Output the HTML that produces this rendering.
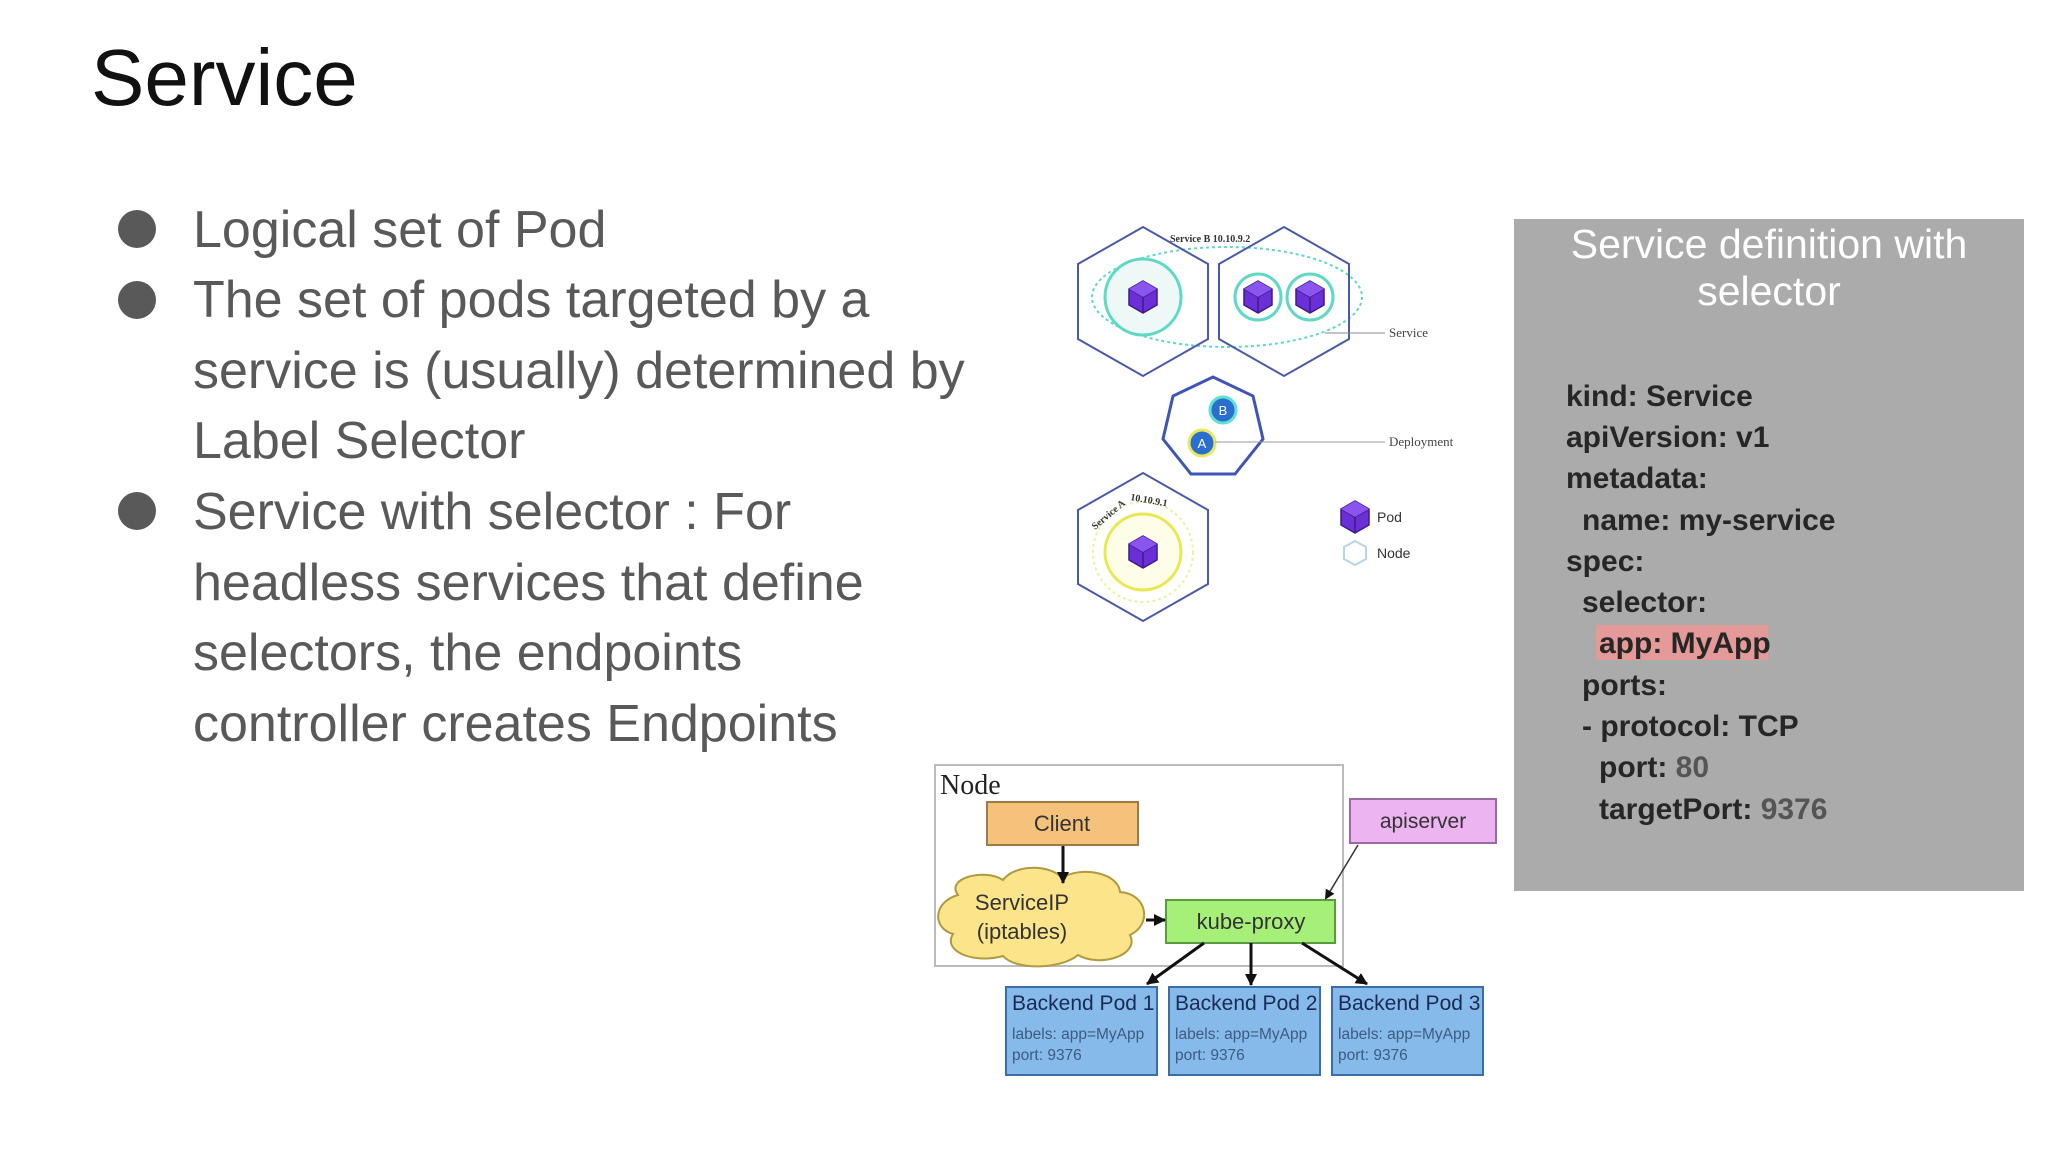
<!DOCTYPE html>
<html><head><meta charset="utf-8"><style>
html,body{margin:0;padding:0;background:#fff;}
svg{display:block;}
</style></head><body>
<svg width="2048" height="1152" viewBox="0 0 2048 1152" xmlns="http://www.w3.org/2000/svg">
<defs>
<g id="cube">
<polygon points="0,-16 14,-8 14,8 0,16 -14,8 -14,-8" fill="#6a2fd6" stroke="#3e1a8a" stroke-width="1.5"/>
<polyline points="-14,-8 0,0 14,-8" fill="none" stroke="#3e1a8a" stroke-width="1.5"/>
<line x1="0" y1="0" x2="0" y2="16" stroke="#3e1a8a" stroke-width="1.5"/>
<polygon points="0,-16 14,-8 0,0 -14,-8" fill="#8a55ee"/>
</g>
<marker id="ah" markerWidth="10" markerHeight="10" refX="8" refY="5" orient="auto" markerUnits="userSpaceOnUse"><path d="M0,0 L10,5 L0,10 z" fill="#111"/></marker>
<marker id="ahs" markerWidth="12" markerHeight="12" refX="11" refY="6" orient="auto" markerUnits="userSpaceOnUse"><path d="M0,0 L12,6 L0,12 z" fill="#111"/></marker>
</defs>

<text x="91" y="105" font-family="Liberation Sans, sans-serif" font-size="80" fill="#111">Service</text>

<g font-family="Liberation Sans, sans-serif" font-size="52" fill="#595959">
<circle cx="137" cy="229" r="19" fill="#595959"/>
<circle cx="137" cy="300" r="19" fill="#595959"/>
<circle cx="137" cy="511" r="19" fill="#595959"/>
<text x="193" y="247">Logical set of Pod</text>
<text x="193" y="317">The set of pods targeted by a</text>
<text x="193" y="388">service is (usually) determined by</text>
<text x="193" y="458">Label Selector</text>
<text x="193" y="529">Service with selector : For</text>
<text x="193" y="600">headless services that define</text>
<text x="193" y="670">selectors, the endpoints</text>
<text x="193" y="741">controller creates Endpoints</text>
</g>

<rect x="1514" y="219" width="510" height="672" fill="#ababab"/>
<g font-family="Liberation Sans, sans-serif" font-size="41" fill="#fff" text-anchor="middle">
<text x="1769" y="258">Service definition with</text>
<text x="1769" y="305">selector</text>
</g>
<rect x="1596" y="625" width="172" height="35" fill="#e59a9a"/>
<g font-family="Liberation Sans, sans-serif" font-size="30" font-weight="bold" fill="#262626">
<text x="1566" y="406">kind: Service</text>
<text x="1566" y="447">apiVersion: v1</text>
<text x="1566" y="488">metadata:</text>
<text x="1582" y="530">name: my-service</text>
<text x="1566" y="571">spec:</text>
<text x="1582" y="612">selector:</text>
<text x="1599" y="653">app: MyApp</text>
<text x="1582" y="695">ports:</text>
<text x="1582" y="736">- protocol: TCP</text>
<text x="1599" y="777">port: <tspan fill="#555">80</tspan></text>
<text x="1599" y="819">targetPort: <tspan fill="#555">9376</tspan></text>
</g>

<!-- hex diagram -->
<ellipse cx="1227" cy="297" rx="135" ry="50" fill="none" stroke="#5fd9c4" stroke-width="2" stroke-dasharray="3,3"/>
<polygon points="1143,227 1208,264 1208,339 1143,376 1078,339 1078,264" fill="none" stroke="#4a5aa8" stroke-width="2"/>
<polygon points="1284,227 1349,264 1349,339 1284,376 1219,339 1219,264" fill="none" stroke="#4a5aa8" stroke-width="2"/>
<circle cx="1143" cy="297" r="38" fill="#eef9f7" stroke="#5fd9c4" stroke-width="3"/>
<use href="#cube" x="1143" y="297"/>
<circle cx="1258" cy="297" r="23" fill="#fff" stroke="#5fd9c4" stroke-width="3"/>
<circle cx="1310" cy="297" r="23" fill="#fff" stroke="#5fd9c4" stroke-width="3"/>
<use href="#cube" x="1258" y="297"/>
<use href="#cube" x="1310" y="297"/>
<text x="1170" y="242" font-family="Liberation Serif, serif" font-size="10" font-weight="bold" fill="#333">Service B 10.10.9.2</text>
<line x1="1325" y1="333" x2="1385" y2="333" stroke="#888" stroke-width="1"/>
<text x="1389" y="337" font-family="Liberation Serif, serif" font-size="13" fill="#444">Service</text>

<polygon points="1213,377 1253,396 1263,439 1235,474 1191,474 1163,439 1173,396" fill="#fff" stroke="#3e55b8" stroke-width="3"/>
<circle cx="1223" cy="410" r="13" fill="#2a6fd0" stroke="#5fe0d0" stroke-width="3"/>
<text x="1223" y="415" font-family="Liberation Sans, sans-serif" font-size="13" fill="#fff" text-anchor="middle">B</text>
<circle cx="1202" cy="443" r="13" fill="#2a6fd0" stroke="#e8e860" stroke-width="3"/>
<text x="1202" y="448" font-family="Liberation Sans, sans-serif" font-size="13" fill="#fff" text-anchor="middle">A</text>
<line x1="1215" y1="442" x2="1385" y2="442" stroke="#999" stroke-width="1"/>
<text x="1389" y="446" font-family="Liberation Serif, serif" font-size="13" fill="#444">Deployment</text>

<polygon points="1143,473 1208,510 1208,584 1143,621 1078,584 1078,510" fill="none" stroke="#4a5aa8" stroke-width="2"/>
<circle cx="1143" cy="552" r="50" fill="none" stroke="#eef0a0" stroke-width="2" stroke-dasharray="3,3"/>
<circle cx="1143" cy="552" r="38" fill="#fdfde8" stroke="#e6ea50" stroke-width="3"/>
<use href="#cube" x="1143" y="552"/>
<text x="1095" y="530" font-family="Liberation Serif, serif" font-size="10" font-weight="bold" fill="#333" transform="rotate(-40 1095 530)">Service A</text>
<text x="1130" y="500" font-family="Liberation Serif, serif" font-size="10" font-weight="bold" fill="#333" transform="rotate(10 1130 500)">10.10.9.1</text>

<use href="#cube" x="1355" y="517"/>
<text x="1377" y="522" font-family="Liberation Sans, sans-serif" font-size="14" fill="#333">Pod</text>
<polygon points="1355,541 1366,547 1366,559 1355,565 1344,559 1344,547" fill="#fff" stroke="#b8d4e8" stroke-width="2"/>
<text x="1377" y="558" font-family="Liberation Sans, sans-serif" font-size="14" fill="#333">Node</text>

<!-- bottom diagram -->
<rect x="935" y="765" width="408" height="201" fill="#fff" stroke="#bbb" stroke-width="2"/>
<text x="940" y="794" font-family="Liberation Serif, serif" font-size="28" fill="#222">Node</text>
<rect x="987" y="802" width="151" height="43" fill="#f5c27c" stroke="#a07a40" stroke-width="2"/>
<text x="1062" y="831" font-family="Liberation Sans, sans-serif" font-size="22" fill="#333" text-anchor="middle">Client</text>
<rect x="1350" y="799" width="146" height="44" fill="#ecb4f0" stroke="#9a6aa0" stroke-width="2"/>
<text x="1423" y="828" font-family="Liberation Sans, sans-serif" font-size="21" fill="#333" text-anchor="middle">apiserver</text>
<path d="M958,895 C945,878 985,868 1003,880 C1015,864 1050,864 1062,878 C1080,866 1118,872 1120,892 C1148,894 1152,925 1130,935 C1140,955 1100,968 1078,955 C1060,970 1015,970 1003,956 C975,964 942,952 953,934 C932,928 933,902 958,895 z" fill="#fbe48a" stroke="#b09a40" stroke-width="2"/>
<text x="1022" y="910" font-family="Liberation Sans, sans-serif" font-size="22" fill="#333" text-anchor="middle">ServiceIP</text>
<text x="1022" y="939" font-family="Liberation Sans, sans-serif" font-size="22" fill="#333" text-anchor="middle">(iptables)</text>
<rect x="1166" y="900" width="169" height="43" fill="#a6ef78" stroke="#5a9a40" stroke-width="2"/>
<text x="1251" y="929" font-family="Liberation Sans, sans-serif" font-size="22" fill="#333" text-anchor="middle">kube-proxy</text>
<line x1="1063" y1="846" x2="1063" y2="883" stroke="#111" stroke-width="3" marker-end="url(#ahs)"/>
<line x1="1146" y1="920" x2="1165" y2="920" stroke="#111" stroke-width="3" marker-end="url(#ahs)"/>
<line x1="1358" y1="845" x2="1326" y2="898" stroke="#333" stroke-width="1.5" marker-end="url(#ah)"/>
<line x1="1204" y1="943" x2="1147" y2="984" stroke="#111" stroke-width="3" marker-end="url(#ahs)"/>
<line x1="1251" y1="943" x2="1251" y2="985" stroke="#111" stroke-width="3" marker-end="url(#ahs)"/>
<line x1="1302" y1="943" x2="1367" y2="984" stroke="#111" stroke-width="3" marker-end="url(#ahs)"/>
<g font-family="Liberation Sans, sans-serif">
<rect x="1006" y="987" width="151" height="88" fill="#86baea" stroke="#3a6ea5" stroke-width="2"/>
<rect x="1169" y="987" width="151" height="88" fill="#86baea" stroke="#3a6ea5" stroke-width="2"/>
<rect x="1332" y="987" width="151" height="88" fill="#86baea" stroke="#3a6ea5" stroke-width="2"/>
<text x="1012" y="1010" font-size="21" fill="#1a2a55">Backend Pod 1</text>
<text x="1175" y="1010" font-size="21" fill="#1a2a55">Backend Pod 2</text>
<text x="1338" y="1010" font-size="21" fill="#1a2a55">Backend Pod 3</text>
<text x="1012" y="1039" font-size="15.5" fill="#3e5a80">labels: app=MyApp</text>
<text x="1175" y="1039" font-size="15.5" fill="#3e5a80">labels: app=MyApp</text>
<text x="1338" y="1039" font-size="15.5" fill="#3e5a80">labels: app=MyApp</text>
<text x="1012" y="1060" font-size="15.5" fill="#3e5a80">port: 9376</text>
<text x="1175" y="1060" font-size="15.5" fill="#3e5a80">port: 9376</text>
<text x="1338" y="1060" font-size="15.5" fill="#3e5a80">port: 9376</text>
</g>
</svg>
</body></html>
